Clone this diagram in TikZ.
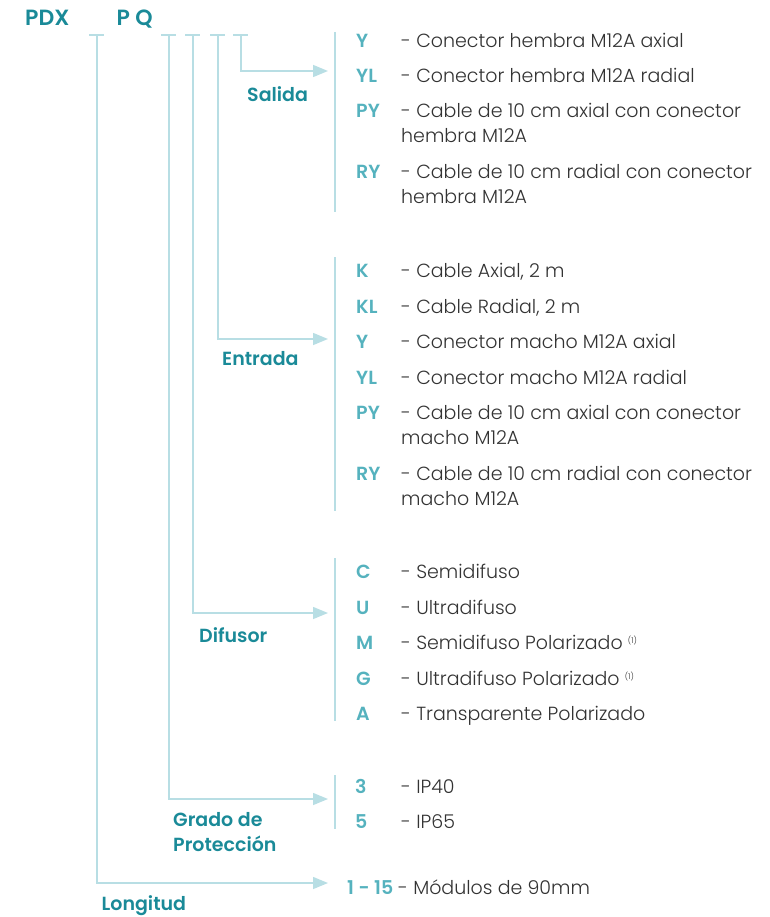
\documentclass[tikz,border=0pt]{standalone}
\usepackage{fontspec}
\setmainfont{Poppins}[UprightFont=* Light, BoldFont=* SemiBold]
\usetikzlibrary{arrows.meta}
\definecolor{labc}{HTML}{1A8A98}
\definecolor{codec}{HTML}{55B2BE}
\definecolor{txtc}{HTML}{333333}
\definecolor{lnc}{HTML}{B8DEE4}
\newcommand{\fnote}{\raisebox{6pt}{\fontsize{8}{8}\selectfont (1)}}
\begin{document}
\begin{tikzpicture}[x=1pt,y=-1pt,
  lab/.style={font=\fontsize{19}{25}\selectfont\bfseries, text=labc, anchor=base west, inner sep=0pt, align=left},
  head/.style={font=\fontsize{22}{25}\selectfont\bfseries, text=labc, anchor=base west, inner sep=0pt},
  code/.style={font=\fontsize{19}{25}\selectfont\bfseries, text=codec, anchor=base west, inner sep=0pt},
  desc/.style={font=\fontsize{19}{25}\selectfont, text=txtc, anchor=base west, inner sep=0pt, align=left},
  conn/.style={draw=lnc, line width=1.5pt, -{Triangle[length=15pt,width=12pt]}},
  lnk/.style={draw=lnc, line width=1.5pt}]
\useasboundingbox (0,0) rectangle (769,917);

% header
\node[head] (pdx) at (25,26) {PDX};
\node[head] (pq) at (116.5,26) {P Q};

% ticks
\foreach \n/\x in {L/97,G/169,D/193,E/218,S/241}{
  \coordinate (t\n) at (\x,35);
  \draw[lnk] ([xshift=-8pt]t\n) -- ([xshift=7pt]t\n);
}
\coordinate (aS) at (328,71);
\coordinate (aE) at (328,339);
\coordinate (aD) at (328,613);
\coordinate (aG) at (328,799);
\coordinate (aL) at (328,883);
\draw[conn] (tS) |- (aS);
\draw[conn] (tE) |- (aE);
\draw[conn] (tD) |- (aD);
\draw[conn] (tG) |- (aG);
\draw[conn] (tL) |- (aL);

% brackets
\coordinate (bS1) at (335,32); \coordinate (bS2) at (335,212);
\coordinate (bE1) at (335,257); \coordinate (bE2) at (335,511);
\coordinate (bD1) at (335,558); \coordinate (bD2) at (335,721);
\coordinate (bG1) at (335,775); \coordinate (bG2) at (335,829);
\draw[lnk] (bS1) -- (bS2);
\draw[lnk] (bE1) -- (bE2);
\draw[lnk] (bD1) -- (bD2);
\draw[lnk] (bG1) -- (bG2);

% group labels
\node[lab] (salida) at (247,101.5) {Salida};
\node[lab] (entrada) at (222,365) {Entrada};
\node[lab] (difusor) at (199,642) {Difusor};
\node[lab] (grado) at (173,851.5) {Grado de\\Protección};
\node[lab] (longitud) at (101.5,910) {Longitud};

% Salida
\node[code] (sY) at (356,47.5) {Y};
\node[desc] (sYd) at (401,47.5) {- Conector hembra M12A axial};
\node[code] (sYL) at (356,83) {YL};
\node[desc] (sYLd) at (401,83) {- Conector hembra M12A radial};
\node[code] (sPY) at (356,118) {PY};
\node[desc] (sPYd) at (401,143) {- Cable de 10 cm axial con conector\\hembra M12A};
\node[code] (sRY) at (356,179) {RY};
\node[desc] (sRYd) at (401,204) {- Cable de 10 cm radial con conector\\hembra M12A};

% Entrada
\node[code] (eK) at (356,277.5) {K};
\node[desc] (eKd) at (401,277.5) {- Cable Axial, 2 m};
\node[code] (eKL) at (356,313) {KL};
\node[desc] (eKLd) at (401,313) {- Cable Radial, 2 m};
\node[code] (eY) at (356,348.5) {Y};
\node[desc] (eYd) at (401,348.5) {- Conector macho M12A axial};
\node[code] (eYL) at (356,384) {YL};
\node[desc] (eYLd) at (401,384) {- Conector macho M12A radial};
\node[code] (ePY) at (356,419.5) {PY};
\node[desc] (ePYd) at (401,444.5) {- Cable de 10 cm axial con conector\\macho M12A};
\node[code] (eRY) at (356,480.5) {RY};
\node[desc] (eRYd) at (401,505.5) {- Cable de 10 cm radial con conector\\macho M12A};

% Difusor
\node[code] (dC) at (356,578) {C};
\node[desc] (dCd) at (401,578) {- Semidifuso};
\node[code] (dU) at (356,614) {U};
\node[desc] (dUd) at (401,614) {- Ultradifuso};
\node[code] (dM) at (356,649.5) {M};
\node[desc] (dMd) at (401,649.5) {- Semidifuso Polarizado \fnote};
\node[code] (dG) at (356,685) {G};
\node[desc] (dGd) at (401,685) {- Ultradifuso Polarizado \fnote};
\node[code] (dA) at (356,720.5) {A};
\node[desc] (dAd) at (401,720.5) {- Transparente Polarizado};

% Grado
\node[code] (g3) at (355,793) {3};
\node[desc] (g3d) at (401,793) {- IP40};
\node[code] (g5) at (355,828) {5};
\node[desc] (g5d) at (401,828) {- IP65};

% Longitud
\node[code] (l1) at (347,894) {1 - 15};
\node[desc] (l1d) at (398,894) {- Módulos de 90mm};
\end{tikzpicture}
\end{document}
